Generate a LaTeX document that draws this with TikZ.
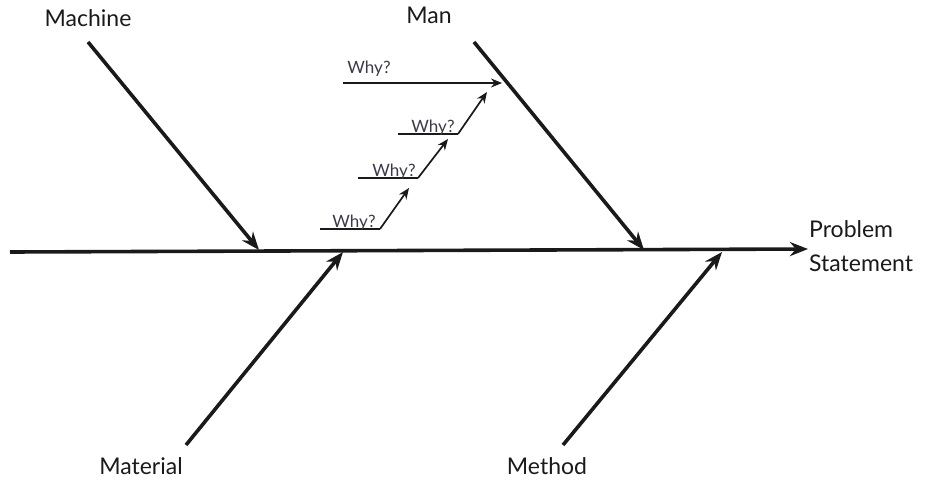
\documentclass[tikz,border=0pt]{standalone}
\usepackage{fontspec}
\setmainfont{Lato}
\usetikzlibrary{arrows.meta,positioning}
\definecolor{ink}{HTML}{1A1A1A}
\definecolor{whytext}{HTML}{3A3A4A}

\begin{document}
\begin{tikzpicture}[x=1pt, y=-1pt,
    cause/.style={font=\fontsize{23}{34}\selectfont, text=ink, inner sep=1pt},
    why/.style={font=\fontsize{17}{18}\selectfont, text=whytext, inner sep=0pt, anchor=base},
    bone/.style={-{Stealth[length=18pt, width=14pt]}, line width=3.6pt, ink},
    step arrow/.style={-{Stealth[length=11pt, width=9pt]}, line width=1.7pt, ink},
    ledge/.style={line width=1.7pt, ink}
  ]
  \useasboundingbox (0,0) rectangle (928,482);

  % Cause labels
  \node[cause] (machine) at (88,18) {Machine};
  \node[cause] (man) at (429,15) {Man};
  \node[cause] (material) at (141,466) {Material};
  \node[cause] (method) at (547,466) {Method};
  \node[cause, anchor=west, align=left] (problem) at (808,246) {Problem\\Statement};

  % Spine and bones
  \coordinate (tail) at (10,252);
  \coordinate (head) at (808,249);
  \draw[bone] (tail) -- (head);
  \coordinate (machine top) at (88,42);
  \coordinate (machine end) at (259,250);
  \coordinate (man top) at (474,42);
  \coordinate (man end) at (644,250);
  \coordinate (material low) at (186,445);
  \coordinate (material end) at (343,252);
  \coordinate (method low) at (563,445);
  \coordinate (method end) at (722,252);
  \draw[bone] (machine top) -- (machine end);
  \draw[bone] (man top) -- (man end);
  \draw[bone] (material low) -- (material end);
  \draw[bone] (method low) -- (method end);

  % Why chain
  \coordinate (w1a) at (320,229);
  \coordinate (w1b) at (380,229);
  \coordinate (w2a) at (358,178);
  \coordinate (w2b) at (418,178);
  \coordinate (w3a) at (398,134);
  \coordinate (w3b) at (458,134);
  \coordinate (w4a) at (343,83);
  \coordinate (w4b) at (502,83);
  \draw[ledge] (w1a) -- (w1b);
  \draw[ledge] (w2a) -- (w2b);
  \draw[ledge] (w3a) -- (w3b);
  \draw[step arrow] (w4a) -- (w4b);
  \draw[step arrow] (w1b) -- (409,188);
  \draw[step arrow] (w2b) -- (448,139);
  \draw[step arrow] (w3b) -- (487,92);
  \node[why] (why1) at (354,227) {Why?};
  \node[why] (why2) at (394,176) {Why?};
  \node[why] (why3) at (433,132) {Why?};
  \node[why] (why4) at (369,73) {Why?};
\end{tikzpicture}
\end{document}
